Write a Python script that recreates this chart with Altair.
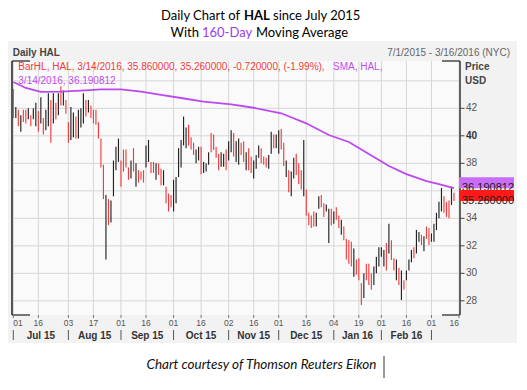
import altair as alt
import pandas as pd

# ---------------- data ----------------
# trading-day index 0 = 2015-07-01 ... 176 = 2016-03-14
HIGH = [
    43.4, 42.1, 41.9, 41.5, 41.9, 41.9, 42.0, 41.5, 42.0, 42.4,
    41.8, 42.8, 41.3, 41.9, 43.1, 42.6, 43.1, 42.4, 43.1, 43.6,
    43.3, 42.6, 41.0, 42.1, 41.7, 41.4, 41.9, 42.0, 43.1, 42.6,
    42.6, 42.2, 41.9, 41.9, 41.0, 39.8, 37.9, 35.7, 35.4, 35.3,
    38.2, 39.2, 39.8, 38.2, 39.0, 39.0, 37.7, 38.2, 39.1, 38.0,
    37.5, 37.4, 37.5, 39.3, 39.7, 38.1, 38.1, 38.0, 38.0, 37.6,
    37.5, 36.3, 35.8, 35.7, 36.8, 37.0, 39.1, 39.7, 41.4, 40.6,
    40.8, 39.9, 39.5, 39.0, 39.2, 39.2, 38.1, 38.0, 38.8, 40.2,
    40.1, 39.2, 38.7, 38.8, 38.7, 39.0, 39.6, 40.4, 40.2, 39.6,
    39.8, 39.5, 39.6, 38.8, 39.1, 38.5, 38.2, 38.6, 39.3, 39.1,
    38.5, 38.4, 38.6, 40.3, 40.1, 40.1, 40.4, 40.5, 39.5, 38.2,
    37.5, 37.4, 38.4, 38.7, 38.0, 37.5, 39.7, 36.1, 34.4, 34.2,
    34.5, 34.4, 35.6, 35.7, 35.1, 35.0, 34.7, 34.7, 34.5, 34.8,
    34.2, 33.9, 33.4, 32.5, 32.4, 32.3, 31.8, 31.0, 31.1, 29.3,
    30.0, 30.7, 30.7, 30.0, 30.5, 31.2, 31.9, 31.9, 31.7, 32.2,
    33.6, 32.4, 31.1, 31.0, 30.4, 30.2, 29.5, 30.2, 31.0, 31.7,
    31.9, 33.15, 33.0, 32.8, 32.7, 33.4, 33.3, 32.9, 33.6, 34.4,
    35.2, 36.2, 35.6, 35.2, 35.3, 36.3, 35.86,
]
LOW = [
    41.3, 41.3, 40.7, 40.3, 41.0, 40.9, 41.2, 40.7, 41.2, 40.7,
    40.3, 40.9, 40.1, 40.4, 40.7, 39.5, 40.9, 41.2, 41.5, 42.2,
    42.2, 41.6, 39.5, 39.7, 39.9, 39.8, 39.8, 40.6, 40.9, 41.4,
    41.7, 41.3, 40.9, 40.8, 39.8, 37.7, 35.4, 31.0, 33.5, 33.7,
    35.6, 37.5, 38.1, 36.3, 37.4, 37.7, 36.8, 36.9, 37.4, 36.3,
    36.6, 36.8, 36.6, 37.7, 38.1, 37.3, 37.3, 36.8, 37.15, 36.4,
    36.4, 35.1, 34.5, 34.8, 34.5, 35.1, 37.0, 37.7, 39.3, 39.1,
    39.3, 39.0, 38.6, 38.0, 38.2, 37.2, 37.3, 37.4, 37.9, 38.8,
    38.97, 38.4, 37.5, 37.75, 37.75, 37.5, 38.2, 38.8, 38.5, 38.1,
    37.9, 38.6, 38.1, 37.5, 37.5, 37.3, 36.9, 37.6, 38.4, 38.0,
    37.9, 37.7, 37.6, 38.7, 39.1, 39.1, 38.7, 39.0, 37.8, 37.0,
    35.9, 35.6, 36.9, 37.15, 36.5, 36.1, 35.6, 34.2, 33.5, 33.3,
    33.4, 33.4, 34.7, 34.8, 34.1, 34.5, 32.2, 33.5, 33.6, 33.9,
    33.3, 32.8, 32.4, 31.0, 30.7, 30.5, 29.75, 29.9, 29.5, 27.7,
    28.2, 29.5, 29.15, 28.8, 29.15, 30.0, 30.5, 31.2, 30.5, 30.2,
    31.45, 30.97, 30.2, 29.5, 29.15, 28.06, 28.8, 29.5, 30.2, 30.8,
    31.1, 31.45, 32.3, 32.06, 31.6, 32.5, 32.06, 32.3, 32.3, 33.15,
    34.0, 34.5, 34.4, 34.1, 34.0, 34.97, 35.26,
]
UP = [
    0, 1, 0, 1, 0, 0, 1, 0, 1, 1,
    0, 1, 0, 1, 1, 0, 1, 0, 1, 0,
    1, 0, 0, 1, 1, 0, 1, 1, 1, 0,
    1, 0, 0, 0, 0, 0, 0, 1, 0, 1,
    1, 1, 1, 0, 0, 0, 0, 1, 0, 1,
    0, 0, 0, 1, 1, 0, 0, 1, 0, 0,
    1, 0, 0, 0, 1, 1, 1, 1, 1, 1,
    0, 0, 0, 1, 1, 0, 1, 1, 1, 0,
    0, 0, 0, 1, 1, 0, 1, 1, 0, 1,
    1, 0, 0, 1, 0, 0, 1, 1, 1, 0,
    0, 0, 1, 1, 0, 1, 1, 0, 0, 1,
    0, 1, 1, 0, 0, 0, 1, 0, 0, 0,
    0, 1, 1, 0, 0, 1, 1, 0, 1, 0,
    0, 1, 0, 0, 0, 0, 1, 0, 0, 0,
    1, 0, 0, 0, 1, 1, 1, 1, 1, 0,
    1, 0, 0, 1, 0, 1, 0, 1, 1, 1,
    0, 1, 1, 0, 1, 0, 0, 1, 1, 1,
    1, 1, 0, 0, 0, 1, 0,
]

# 160-day SMA read at these trading-day indexes
SMA_IDX = [0, 5, 11, 19, 27, 35, 43, 51, 59, 67, 76, 87, 96, 107, 117, 126,
           134, 142, 150, 157, 165, 170, 176]
SMA_VAL = [43.91, 43.48, 43.19, 43.21, 43.29, 43.37, 43.38, 43.22, 42.97, 42.75,
           42.48, 42.28, 42.04, 41.64, 40.91, 40.06, 39.55, 38.68, 37.80, 37.22,
           36.71, 36.49, 36.19]

TICK_IDX = [0, 10, 22, 32, 43, 53, 64, 75, 86, 96, 106, 117, 128, 138, 147, 157, 167, 178]
TICK_LAB = ["01", "16", "03", "17", "01", "16", "01", "16", "02", "16",
            "01", "16", "04", "19", "01", "16", "01", "16"]
MONTH_START = [0, 22, 43, 64, 86, 106, 128, 147, 167]
MONTH_LAB = ["Jul 15", "Aug 15", "Sep 15", "Oct 15", "Nov 15", "Dec 15", "Jan 16", "Feb 16"]
PRICE_TICKS = [28, 30, 32, 34, 36, 38, 40, 42, 44]
PRICE_LABELED = [28, 30, 32, 34, 38, 40, 42]   # 36 sits under the value box, 44 under "USD"
PRICE_BOLD = [40]
LAST_SMA = 36.190812
LAST_CLOSE = 35.26
LEGEND_BAR = "BarHL, HAL, 3/14/2016, 35.860000, 35.260000, -0.720000, (-1.99%),"
LEGEND_SMA1 = "SMA, HAL,"
LEGEND_SMA2 = "3/14/2016, 36.190812"

# ---------------- styling ----------------
W, H = 448, 254
RED = "#f23c3c"
BLK = "#222222"
PURPLE = "#bd48f0"
FONT = "Liberation Sans"
XS = alt.Scale(domain=[-0.52, 178.4], nice=False, zero=False)
YS = alt.Scale(domain=[26.97, 45.44], nice=False, zero=False)

bars_df = pd.DataFrame({"i": list(range(len(HIGH))), "hi": HIGH, "lo": LOW,
                        "dir": ["up" if u else "down" for u in UP]})
sma_df = pd.DataFrame({"i": SMA_IDX, "v": SMA_VAL})
xt_df = pd.DataFrame({"i": TICK_IDX, "lab": TICK_LAB})
yt_df = pd.DataFrame({"p": PRICE_TICKS})
ytick_df = pd.DataFrame({"p": [p for p in PRICE_TICKS if p != 44]})
ylab_norm = pd.DataFrame({"p": [p for p in PRICE_LABELED if p not in PRICE_BOLD]})
ylab_bold = pd.DataFrame({"p": [p for p in PRICE_LABELED if p in PRICE_BOLD]})
ms_df = pd.DataFrame({"i": MONTH_START})
ml_df = pd.DataFrame({"m": [(MONTH_START[k] + MONTH_START[k + 1]) / 2 for k in range(len(MONTH_LAB))],
                      "lab": MONTH_LAB})
sma_box_df = pd.DataFrame({"v": [LAST_SMA], "lab": [f"{LAST_SMA:.6f}"]})
bar_box_df = pd.DataFrame({"v": [LAST_CLOSE], "lab": [f"{LAST_CLOSE:.6f}"]})
one = pd.DataFrame({"a": [0]})

X = lambda f: alt.X(f, scale=XS, axis=None)
Y = lambda f: alt.Y(f, scale=YS, axis=None)


def rect(x, x2, y, y2, color):
    return alt.Chart(one).mark_rect(color=color).encode(
        x=alt.value(x), x2=alt.value(x2), y=alt.value(y), y2=alt.value(y2))


def seg(x, x2, y, y2, color="#4a4a4a", w=1.5):
    return alt.Chart(one).mark_rule(color=color, strokeWidth=w).encode(
        x=alt.value(x), x2=alt.value(x2), y=alt.value(y), y2=alt.value(y2))


def T(s, x, y, size=10, color="#000", weight="normal", align="left",
      font=FONT, style="normal"):
    return alt.Chart(one).mark_text(
        text=s, fontSize=size, color=color, fontWeight=weight, align=align,
        font=font, fontStyle=style, baseline="alphabetic"
    ).encode(x=alt.value(x), y=alt.value(y))


def value_box(df, fill):
    box = alt.Chart(df).mark_tick(thickness=11, yOffset=-5.5, opacity=1,
                                  orient="horizontal", color=fill).encode(
        x=alt.value(474.5), y=Y("v:Q"), size=alt.value(55))
    txt = alt.Chart(df).mark_text(align="left", baseline="middle", fontSize=11,
                                  font=FONT, color="#1a1a1a").encode(
        x=alt.value(450), y=Y("v:Q"), text="lab:N")
    return [box, txt]


panel = rect(-5, 505, -20, 282, "#f2f2f2")
plotbg = rect(0, W, 0, H, "#fafafa")

vgrid = alt.Chart(xt_df).mark_rule(color="#d6d6d6", strokeWidth=1).encode(
    x=X("i:Q"), y=alt.value(0), y2=alt.value(H))
hgrid = alt.Chart(yt_df).mark_rule(color="#d6d6d6", strokeWidth=1).encode(
    y=Y("p:Q"), x=alt.value(0), x2=alt.value(W))

bars = alt.Chart(bars_df).mark_rule(strokeWidth=1.15).encode(
    x=X("i:Q"), y=Y("lo:Q"), y2="hi:Q",
    color=alt.Color("dir:N", scale=alt.Scale(domain=["up", "down"], range=[BLK, RED]),
                    legend=None),
)

sma = alt.Chart(sma_df).mark_line(color=PURPLE, strokeWidth=1.8).encode(
    x=X("i:Q"), y=Y("v:Q"))

frame = [
    seg(0, 0, 0, H, "#555", 2),
    seg(W, W, 0, H, "#333", 1.5),
    seg(0, 18, 0, 0), seg(430, W, 0, 0),
    seg(0, 18, H, H), seg(430, W, H, H),
]

# right price axis: ticks + labels
y_ticks = alt.Chart(ytick_df).mark_rule(color="#444", strokeWidth=1).encode(
    y=Y("p:Q"), x=alt.value(W), x2=alt.value(W + 4.5))
y_labels = [
    alt.Chart(ylab_norm).mark_text(align="left", baseline="middle", fontSize=10,
                                   font=FONT, color="#555").encode(
        x=alt.value(W + 6), y=Y("p:Q"), text="p:Q"),
    alt.Chart(ylab_bold).mark_text(align="left", baseline="middle", fontSize=10,
                                   font=FONT, color="#333", fontWeight="bold").encode(
        x=alt.value(W + 6), y=Y("p:Q"), text="p:Q"),
]

# bottom date axis: ticks + day labels + month row
x_ticks = alt.Chart(xt_df).mark_rule(color="#777", strokeWidth=1).encode(
    x=X("i:Q"), y=alt.value(H), y2=alt.value(H + 3))
n = len(TICK_IDX)
x_labels = [
    alt.Chart(xt_df.iloc[[0]]).mark_text(align="left", baseline="top", fontSize=8.5,
                                        font=FONT, color="#555").encode(
        x=X("i:Q"), y=alt.value(H + 4), text="lab:N"),
    alt.Chart(xt_df.iloc[1:n - 1]).mark_text(align="center", baseline="top", fontSize=8.5,
                                             font=FONT, color="#555").encode(
        x=X("i:Q"), y=alt.value(H + 4), text="lab:N"),
    alt.Chart(xt_df.iloc[[n - 1]]).mark_text(align="right", baseline="top", fontSize=8.5,
                                            font=FONT, color="#555").encode(
        x=X("i:Q"), y=alt.value(H + 4), text="lab:N"),
]
month_sep = alt.Chart(ms_df).mark_rule(color="#555", strokeWidth=1).encode(
    x=X("i:Q"), y=alt.value(269), y2=alt.value(279))
month_lab = alt.Chart(ml_df).mark_text(fontSize=10, fontWeight="bold", color="#333",
                                       font=FONT, align="center", baseline="alphabetic").encode(
    x=X("m:Q"), y=alt.value(278), text="lab:N")

texts = [
    T("Daily Chart of", 228, -41.5, 13, "#000", align="right", font="Lato"),
    T("HAL", 232, -41.5, 13, "#000", weight="bold", font="Lato"),
    T("since July 2015", 261, -41.5, 13, "#000", font="Lato"),
    T("With", 187, -24.3, 13, "#000", align="right", font="Lato"),
    T("160-Day", 190, -24.3, 13, "#9a3cf5", font="Lato"),
    T("Moving Average", 244, -24.3, 13, "#000", font="Lato"),
    T("Daily HAL", 0.7, -5, 10, "#444", weight="bold"),
    T("7/1/2015 - 3/16/2016 (NYC)", 498, -5, 10, "#666", align="right"),
    T(LEGEND_BAR, 6.3, 9, 10, "#f03a3a"),
    T(LEGEND_SMA1, 321, 9, 10, "#c24cf0"),
    T(LEGEND_SMA2, 6.3, 23, 10, "#c24cf0"),
    T("Price", 453, 9, 10, "#444", weight="bold"),
    T("USD", 453, 22.5, 10, "#444", weight="bold"),
    T("Chart courtesy of Thomson Reuters Eikon", 249.5, 308.3, 13.5, "#111",
      align="center", font="Lato", style="italic"),
]
cursor = seg(372, 372, 295, 317, "#333", 1)

chart = alt.layer(
    panel, plotbg, vgrid, hgrid, bars, sma, *frame, y_ticks, *y_labels,
    x_ticks, *x_labels,
    *value_box(sma_box_df, "#c86df7"), *value_box(bar_box_df, "#ff1a1a"),
    month_sep, month_lab, *texts, cursor,
).properties(
    width=W, height=H, autosize="none", background="white",
    padding={"left": 4, "top": 53, "right": 59, "bottom": 67},
).configure_view(stroke=None)

chart.save("out.html", embed_options={"renderer": "svg", "actions": False})
